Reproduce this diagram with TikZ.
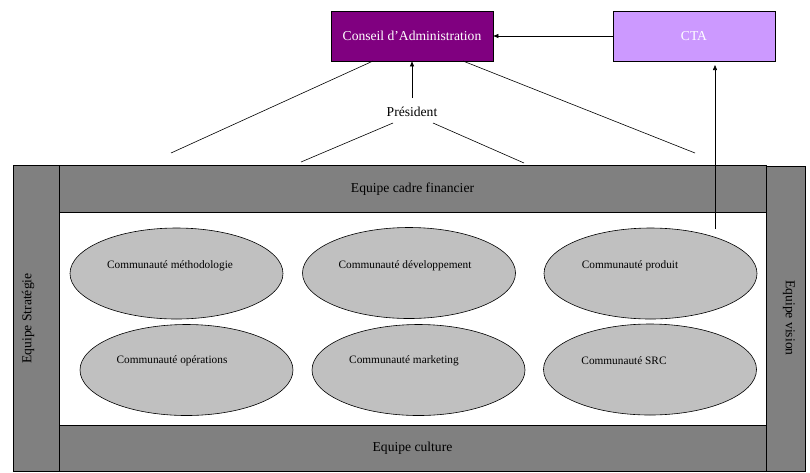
\documentclass[tikz,border=0pt]{standalone}
\usepackage{fontspec}
\setmainfont{Liberation Serif}
\usetikzlibrary{shapes.geometric,arrows.meta}
\definecolor{boardpurple}{HTML}{800080}
\definecolor{ctalilac}{HTML}{CC99FF}
\definecolor{bandgray}{HTML}{808080}
\definecolor{commgray}{HTML}{C0C0C0}
\tikzset{
  bigfont/.style={font=\fontsize{13.6}{15}\selectfont},
  topbox/.style={draw=black, line width=0.8pt, text=white, minimum width=162pt, minimum height=50pt, inner sep=0pt, bigfont},
  band/.style={draw=black, line width=0.8pt, fill=bandgray, inner sep=0pt, bigfont},
  comm/.style={ellipse, draw=black, line width=0.6pt, fill=commgray, minimum width=213pt, minimum height=91pt, inner sep=0pt},
  ctext/.style={font=\fontsize{11.3}{13}\selectfont, inner sep=0pt},
  conn/.style={line width=0.6pt},
  arr/.style={line width=0.6pt, -{Triangle[length=5pt,width=4pt]}},
}
\begin{document}
\begin{tikzpicture}[x=1pt,y=-1pt]
\useasboundingbox (0,0) rectangle (810,472);
% outer frame parts
\node[band, minimum width=46pt, minimum height=306pt] (strat) at (36,318.5) {};
\node[band, minimum width=39pt, minimum height=305pt] (vision) at (785.5,318.5) {};
\node[band, minimum width=707pt, minimum height=47pt] (fin) at (412.5,189) {Equipe cadre financier};
\node[band, minimum width=707pt, minimum height=46pt] (cult) at (412.5,448) {Equipe culture};
\node[draw=black, line width=0.8pt, fill=white, minimum width=707pt, minimum height=213pt, inner sep=0pt] (inner) at (412.5,318.5) {};
\node[rotate=90, bigfont] (stratlbl) at (28,318.5) {Equipe Stratégie};
\node[rotate=-90, bigfont] (visionlbl) at (789,318) {Equipe vision};
% top boxes
\node[topbox, fill=boardpurple] (ca) at (412,36) {Conseil d'Administration};
\node[topbox, fill=ctalilac] (cta) at (694,36) {CTA};
\node[bigfont, inner sep=1pt] (pres) at (412,112) {Président};
% communities
\node[comm] (e1) at (176.5,273.5) {};
\node[comm] (e2) at (409,273) {};
\node[comm] (e3) at (650.5,273.5) {};
\node[comm] (e4) at (186.5,370) {};
\node[comm] (e5) at (418.5,370) {};
\node[comm] (e6) at (650,369.5) {};
\node[ctext] (t1) at (170,266) {Communauté méthodologie};
\node[ctext] (t2) at (405,266) {Communauté développement};
\node[ctext] (t3) at (630,266) {Communauté produit};
\node[ctext] (t4) at (172,361) {Communauté opérations};
\node[ctext] (t5) at (404,361) {Communauté marketing};
\node[ctext] (t6) at (624,361) {Communauté SRC};
% connectors
\coordinate (cal) at (373,61);
\coordinate (car) at (463,61);
\coordinate (endl) at (171,153);
\coordinate (endr) at (695,153);
\coordinate (pl) at (393,123);
\coordinate (pr) at (433,123);
\coordinate (pendl) at (301,162);
\coordinate (pendr) at (524,163);
\coordinate (prodtop) at (715,229);
\coordinate (ctatip) at (715,65);
\draw[conn] (cal) -- (endl);
\draw[conn] (car) -- (endr);
\draw[conn] (pl) -- (pendl);
\draw[conn] (pr) -- (pendr);
\draw[arr] (cta.west) -- (ca.east);
\draw[arr] ([yshift=8pt]pres.north) -- (ca.south);
\draw[arr] (prodtop) -- (ctatip);
\end{tikzpicture}
\end{document}
